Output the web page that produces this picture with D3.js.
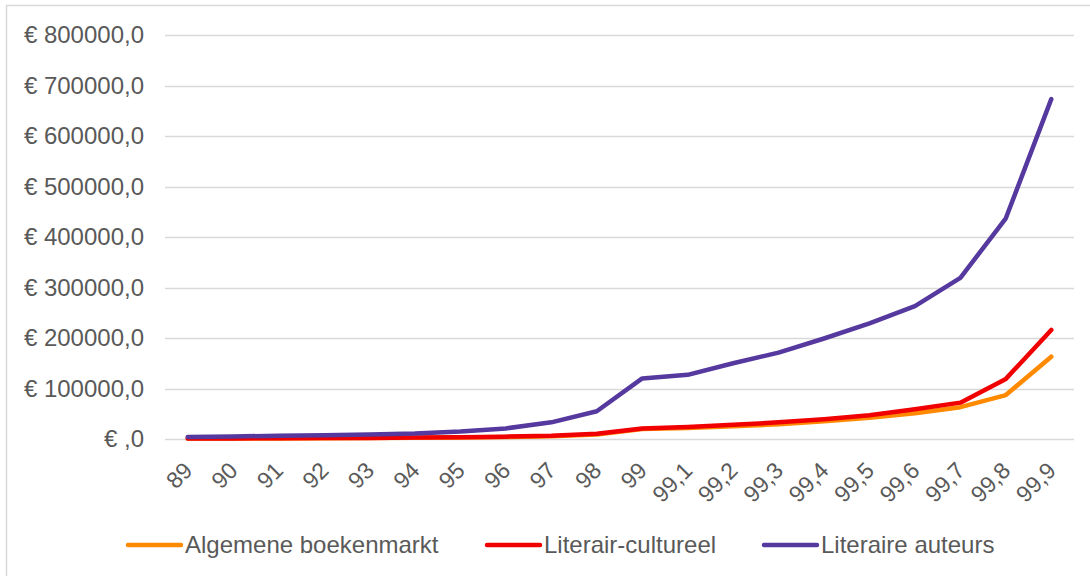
<!DOCTYPE html>
<html>
<head>
<meta charset="utf-8">
<script src="https://cdn.jsdelivr.net/npm/d3@7"></script>
<style>
  body { margin: 0; background: #fff; }
  text { font-family: "Liberation Sans", Arial, sans-serif; fill: #595959; }
</style>
</head>
<body>
<svg id="chart" width="1090" height="576"></svg>
<script>
// categories (x axis)
var categories = ["89", "90", "91", "92", "93", "94", "95", "96", "97", "98", "99",
  "99,1", "99,2", "99,3", "99,4", "99,5", "99,6", "99,7", "99,8", "99,9"];

// series values
var algemeen = [800, 1000, 1200, 1500, 1800, 2300, 3000, 4000, 5500, 9000, 20000,
  22000, 25000, 29000, 35000, 42000, 51000, 63000, 87000, 163000];
var literairCultureel = [1000, 1200, 1500, 1800, 2200, 2800, 3600, 4700, 6500, 10500, 21000,
  24000, 28000, 33000, 39000, 47000, 59000, 72000, 119000, 216000];
var literaireAuteurs = [4000, 5000, 6500, 7500, 9000, 11000, 15000, 21000, 33000, 55000, 120000,
  127000, 150000, 171000, 199000, 229000, 263000, 319000, 437000, 673000];

var seriesNames = ["Algemene boekenmarkt", "Literair-cultureel", "Literaire auteurs"];
var seriesColors = ["#FF8A00", "#F00000", "#55399E"];
var yTicks = [0, 100000, 200000, 300000, 400000, 500000, 600000, 700000, 800000];

var series = [algemeen, literairCultureel, literaireAuteurs];

var svg = d3.select("#chart");

// outer border (only left/top visible in the picture)
svg.append("rect")
  .attr("x", 6.5).attr("y", 5.5)
  .attr("width", 1100).attr("height", 600)
  .attr("fill", "none")
  .attr("stroke", "#D9D9D9")
  .attr("stroke-width", 1.5);

var margin = { top: 35, left: 165 };
var plotW = 1074 - margin.left;
var plotH = 439 - margin.top;

var x = d3.scaleBand().domain(categories).range([margin.left, margin.left + plotW]);
var y = d3.scaleLinear().domain([0, 800000]).range([margin.top + plotH, margin.top]);

// gridlines
svg.append("g").selectAll("line")
  .data(yTicks)
  .enter().append("line")
  .attr("x1", margin.left).attr("x2", margin.left + plotW)
  .attr("y1", function(d) { return Math.round(y(d)) + 0.5; })
  .attr("y2", function(d) { return Math.round(y(d)) + 0.5; })
  .attr("stroke", "#D9D9D9")
  .attr("stroke-width", 1.5);

// y labels
var fmt = function(d) {
  return d === 0 ? "€ ,0" : "€ " + d + ",0";
};
svg.append("g").selectAll("text")
  .data(yTicks)
  .enter().append("text")
  .attr("x", 144)
  .attr("y", function(d) { return y(d); })
  .attr("dy", "0.35em")
  .attr("text-anchor", "end")
  .style("font-size", "24px")
  .text(fmt);

// x labels rotated
svg.append("g").selectAll("text")
  .data(categories)
  .enter().append("text")
  .attr("transform", function(d) {
    var cx = x(d) + x.bandwidth() / 2;
    return "translate(" + (cx + 6) + "," + 472 + ") rotate(-45)";
  })
  .attr("text-anchor", "end")
  .style("font-size", "23px")
  .text(function(d) { return d; });

// lines
var line = d3.line()
  .x(function(d, i) { return x(categories[i]) + x.bandwidth() / 2; })
  .y(function(d) { return y(d); });

svg.append("g").selectAll("path")
  .data(series)
  .enter().append("path")
  .attr("d", line)
  .attr("fill", "none")
  .attr("stroke", function(d, i) { return seriesColors[i]; })
  .attr("stroke-width", 4.5)
  .attr("stroke-linejoin", "round")
  .attr("stroke-linecap", "round");

// legend
var legendX = [128, 487, 764];
var legend = svg.append("g").selectAll("g")
  .data(seriesNames)
  .enter().append("g")
  .attr("transform", function(d, i) { return "translate(" + legendX[i] + ",545)"; });

legend.append("line")
  .attr("x1", 0).attr("x2", 53)
  .attr("y1", 0).attr("y2", 0)
  .attr("stroke", function(d, i) { return seriesColors[i]; })
  .attr("stroke-width", 4.5)
  .attr("stroke-linecap", "round");

legend.append("text")
  .attr("x", 57)
  .attr("y", 0)
  .attr("dy", "0.35em")
  .style("font-size", "24px")
  .text(function(d) { return d; });
</script>
</body>
</html>
